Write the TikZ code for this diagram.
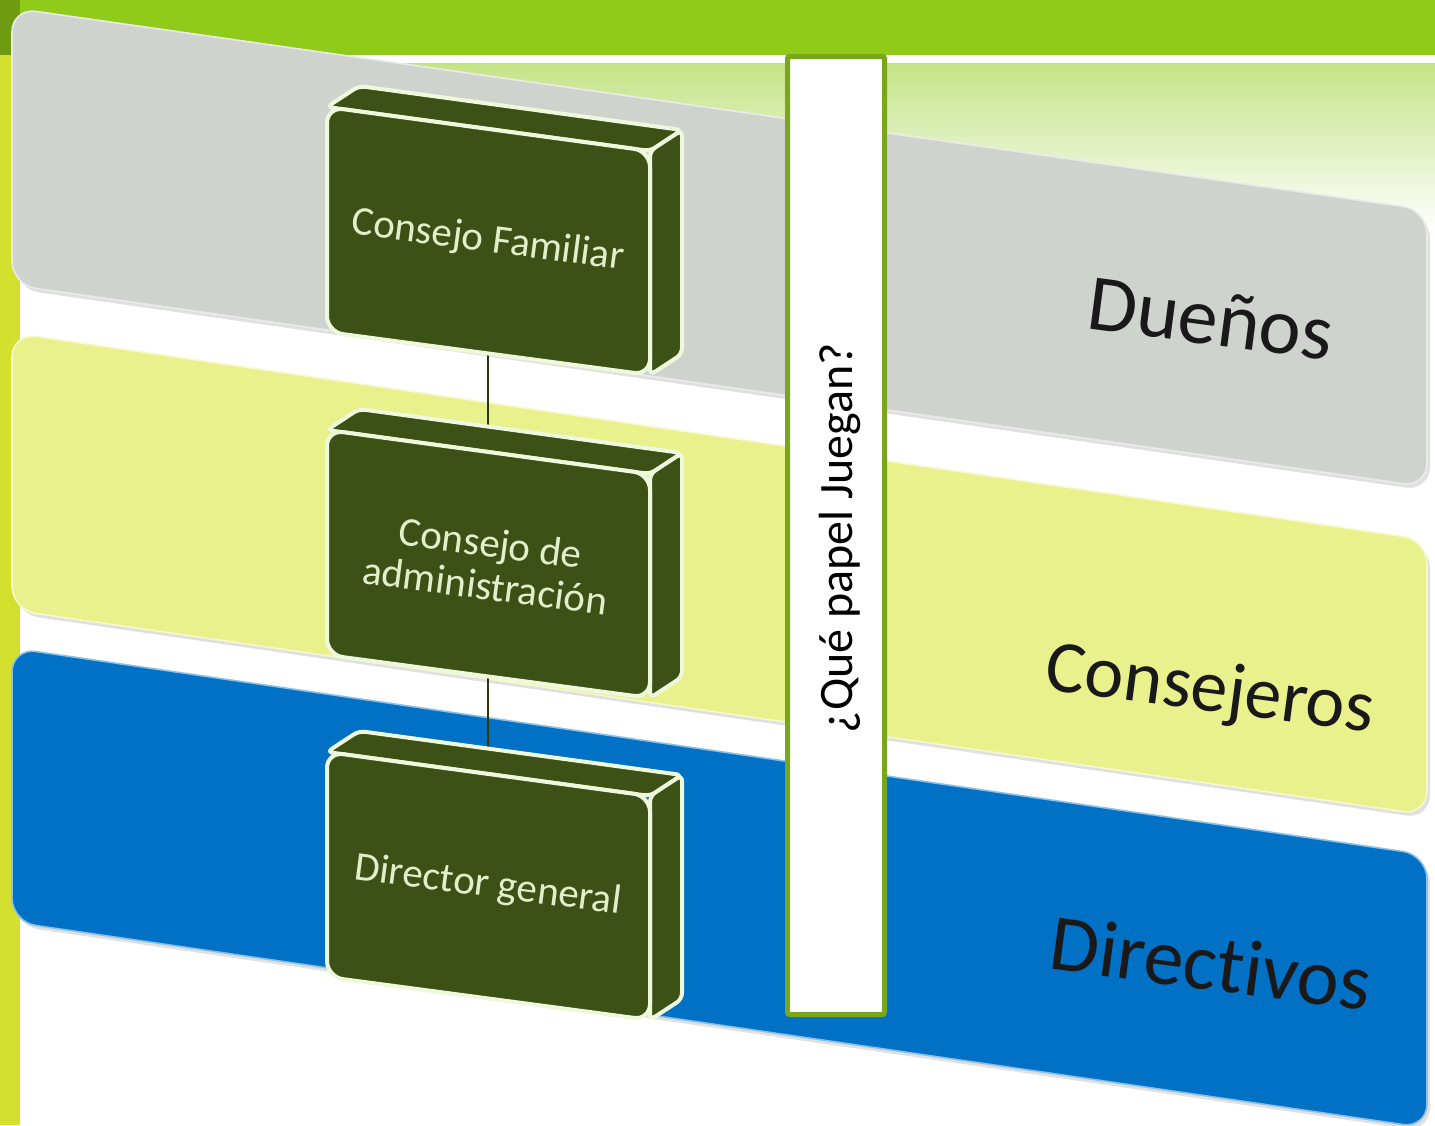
\documentclass[tikz,border=0pt]{standalone}
\usepackage{fontspec}
\setmainfont{Carlito}[Ligatures=NoCommon]
\usepackage{tikz}
\usetikzlibrary{calc}
\definecolor{barGreen}{HTML}{8FCB18}
\definecolor{stripDark}{HTML}{6F9B12}
\definecolor{stripYellow}{HTML}{D4E02E}
\definecolor{bgGreen}{HTML}{C4E386}
\definecolor{grayBand}{HTML}{CFD3CE}
\definecolor{yellowBand}{HTML}{E9F18C}
\definecolor{blueBand}{HTML}{0071C5}
\definecolor{cubeGreen}{HTML}{3D5116}
\definecolor{cubeLine}{HTML}{EEF8DC}
\definecolor{cubeText}{HTML}{E2EFCB}
\definecolor{roleGreen}{HTML}{7AA61C}
\definecolor{linkColor}{HTML}{2B3512}

\begin{document}
\begin{tikzpicture}
[x=0.5pt,y=-0.5pt,
band/.style={rounded corners=12pt,line width=0.8pt},
bandshadow/.style={rounded corners=12pt,fill=black,opacity=0.12},
face/.style={fill=cubeGreen,draw=cubeLine,line width=2pt,rounded corners=3pt},
front/.style={face,rounded corners=8pt},
boxtext/.style={text=cubeText,font=\fontsize{20.5}{21.5}\selectfont,rotate=-7.5,align=center},
tier/.style={text=black!90,font=\fontsize{40}{48}\selectfont,rotate=-7.5},
rolebox/.style={draw=roleGreen,line width=2.5pt,fill=white,minimum width=48.5pt,minimum height=479pt,inner sep=0pt,rounded corners=1pt},
link/.style={draw=linkColor,line width=1.3pt},]

%Slide frame
\clip (0,0) rectangle (1435,1125);
\shade[top color=bgGreen,bottom color=white] (20,63) rectangle (1435,230);
\fill[barGreen] (20,0) rectangle (1435,55);
\fill[stripDark] (0,0) rectangle (20,55);
\fill[stripYellow] (0,55) rectangle (20,1125);

%Bands
\fill[bandshadow] (15,12) -- (1430,214) -- (1430,491) -- (15,289) -- cycle;
\draw[band,fill=grayBand,draw=white!55!grayBand] (12,8) -- (1427,210) -- (1427,487) -- (12,285) -- cycle;
\fill[bandshadow] (15,337) -- (1430,544) -- (1430,819) -- (15,614) -- cycle;
\draw[band,fill=yellowBand,draw=white!55!yellowBand] (12,333) -- (1427,540) -- (1427,815) -- (12,610) -- cycle;
\fill[bandshadow] (15,652) -- (1430,859) -- (1430,1132) -- (15,926) -- cycle;
\draw[band,fill=blueBand,draw=white!55!blueBand] (12,648) -- (1427,855) -- (1427,1128) -- (12,922) -- cycle;

%Box centres
\coordinate (fam) at (488,241);
\coordinate (adm) at (488,564);
\coordinate (dir) at (488,886);

\draw[link] (fam) -- (adm);
\draw[link] (adm) -- (dir);

%Consejo Familiar
\def\ya{107}
\draw[face] (327,\ya) -- (359,\ya-21) -- (682,\ya+23) -- (650,\ya+44) -- cycle;
\draw[face] (650,\ya+44) -- (682,\ya+23) -- (682,\ya+247) -- (650,\ya+268) -- cycle;
\draw[front] (327,\ya) -- (650,\ya+44) -- (650,\ya+268) -- (327,\ya+225) -- cycle;
\node (famtext) at (fam)[boxtext] {Consejo Familiar};

%Consejo de administracion
\def\yb{430}
\draw[face] (327,\yb) -- (359,\yb-21) -- (682,\yb+23) -- (650,\yb+44) -- cycle;
\draw[face] (650,\yb+44) -- (682,\yb+23) -- (682,\yb+247) -- (650,\yb+268) -- cycle;
\draw[front] (327,\yb) -- (650,\yb+44) -- (650,\yb+268) -- (327,\yb+225) -- cycle;
\node (admtext) at (adm)[boxtext] {Consejo de\\administración};

%Director general
\def\yc{752}
\draw[face] (327,\yc) -- (359,\yc-21) -- (682,\yc+23) -- (650,\yc+44) -- cycle;
\draw[face] (650,\yc+44) -- (682,\yc+23) -- (682,\yc+247) -- (650,\yc+268) -- cycle;
\draw[front] (327,\yc) -- (650,\yc+44) -- (650,\yc+268) -- (327,\yc+225) -- cycle;
\node (dirtext) at (dir)[boxtext] {Director general};

%Question box
\node (role) at (836,535.5)[rolebox] {};
\node (roletext) at (840,538)[rotate=90,font=\fontsize{24}{28}\selectfont] {¿Qué papel Juegan?};

%Band labels
\node (owners) at (1211,318)[tier] {Dueños};
\node (advisers) at (1210,692)[tier,font=\fontsize{37}{44}\selectfont] {Consejeros};
\node (managers) at (1211,963)[tier] {Directivos};

\end{tikzpicture}
\end{document}
